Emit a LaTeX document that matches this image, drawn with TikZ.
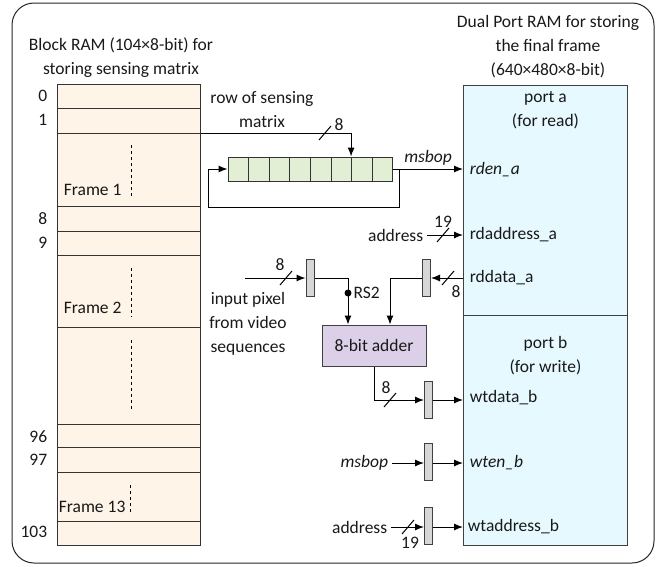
\documentclass[tikz,border=0pt]{standalone}
\usepackage{fontspec}
\setmainfont{Carlito}
\usetikzlibrary{arrows.meta,positioning}
\definecolor{ramfill}{HTML}{FEF4E8}
\definecolor{cellfill}{HTML}{E2EFD5}
\definecolor{portfill}{HTML}{E6F9FE}
\definecolor{addfill}{HTML}{DCD0E8}
\definecolor{latchfill}{HTML}{D6D6D6}
\newcommand{\busmark}[2]{\draw (#1-6,#2+7) -- (#1+6,#2-7);}
\begin{document}
\begin{tikzpicture}[x=1pt,y=-1pt,>={Latex[length=9pt,width=7pt]},line width=1pt,
  every node/.style={font=\fontsize{17.5}{24}\selectfont, text=black!90}]
  \tikzstyle{latch}=[draw=black!75, fill=latchfill, minimum width=8pt, minimum height=37pt, inner sep=0pt]
  \tikzstyle{cell}=[draw=black!80, fill=cellfill, minimum width=20.6pt, minimum height=24pt, inner sep=0pt]
  \tikzstyle{port}=[draw=black!75, fill=portfill, minimum width=164pt, minimum height=230pt, inner sep=0pt, anchor=north west]

\useasboundingbox (0,0) rectangle (665,566);
\draw[black!85, rounded corners=22pt] (12,3) rectangle (654,563);

% block RAM
\node [align=center] (bramtitle) at (121,58) {Block RAM (104×8-bit) for\\storing sensing matrix};
\node [draw=black!80, fill=ramfill, minimum width=143pt, minimum height=461pt, inner sep=0pt, anchor=north west] (bram) at (57,84) {};
\foreach \y in {108,133,206,231,255,327,424,447,472,521}
  \draw [black!80] (bram.west |- 0,\y) -- (bram.east |- 0,\y);

\node [anchor=east] (a0)   at (51,96)  {0};
\node [anchor=east] (a1)   at (51,120) {1};
\node [anchor=east] (a8)   at (51,219) {8};
\node [anchor=east] (a9)   at (51,243) {9};
\node [anchor=east] (a96)  at (51,437) {96};
\node [anchor=east] (a97)  at (51,460) {97};
\node [anchor=east] (a103) at (51,532) {103};

\node [anchor=west] (fr1)  at (60,190) {Frame 1};
\node [anchor=west] (fr2)  at (60,308) {Frame 2};
\node [anchor=west] (fr13) at (55,507) {Frame 13};
\draw [dashed, line width=0.7pt] (131,145) -- (131,198);
\draw [dashed, line width=0.7pt] (131,268) -- (131,317);
\draw [dashed, line width=0.7pt] (131,340) -- (131,411);
\draw [dashed, line width=0.7pt] (130,485) -- (130,512);

% dual port RAM
\node [align=center] (dptitle) at (548,47) {Dual Port RAM for storing\\the final frame\\(640×480×8-bit)};
\node [port] (porta) at (463,85) {};
\node [port] (portb) at (463,315) {};
\node [align=center, anchor=north] (patext) at ([yshift=-3pt]porta.north) {port a\\(for read)};
\node [align=center, anchor=north] (pbtext) at ([yshift=-18pt]portb.north) {port b\\(for write)};
\node [anchor=west] (rden)   at (466,170) {\textit{rden\_a}};
\node [anchor=west] (rdaddr) at (466,235) {rdaddress\_a};
\node [anchor=west] (rddata) at (466,278) {rddata\_a};
\node [anchor=west] (wtdata) at (466,398) {wtdata\_b};
\node [anchor=west] (wten)   at (466,463) {\textit{wten\_b}};
\node [anchor=west] (wtaddr) at (464,527) {wtaddress\_b};

% shift register
\foreach \i in {0,...,7}
  \node [cell] (c\i) at ({238.3+20.6*\i},169) {};
\node [align=center] (rowtext) at (262,110) {row of sensing\\matrix};
\draw [->] (bram.east |- 0,133) -| (c6.north west);
\busmark{325}{133}
\node (rowbus) at (339,125) {8};

\coordinate (fbtap) at (399,169);
\coordinate (fbleft) at (208,207);
\draw [->] (c7.east) -- (porta.west |- c7.east) node [midway, above] (msbopa) {\textit{msbop}};
\draw [->] (fbtap) |- (fbleft) |- (c0.west);

% read side
\node [anchor=east] (addra) at (427,235) {address};
\draw [->] (addra.east) -- (porta.west |- addra.east);
\busmark{443}{235}
\node (addrabus) at (443,222) {19};

\node [latch] (lrd) at (426.5,278) {};
\draw [->] (porta.west |- lrd) -- (lrd.east);
\busmark{448}{278}
\node (rdbus) at (456,292) {8};

\node [draw=black!75, fill=addfill, minimum width=104pt, minimum height=41pt] (add) at (374,345.5) {8-bit adder};
\draw [->] (lrd.west) -| ([xshift=16pt]add.north);

\coordinate (pixin) at (245,278);
\node [latch] (lin) at (310,278) {};
\draw [->] (pixin) -- (lin.west);
\busmark{286}{278}
\node (pixbus) at (280,265) {8};
\node [align=center] (pixtext) at (248,324) {input pixel\\from video\\sequences};
\draw [->] (lin.east) -| ([xshift=-26pt]add.north);
\node [circle, fill, inner sep=0pt, minimum size=7pt] (rs2) at (348,293) {};
\node [anchor=west, inner sep=1pt] (rs2text) at (rs2.east) {RS2};

% write side
\node [latch] (lwd) at (428.5,400) {};
\draw [->] (add.south) |- (lwd.west);
\busmark{390}{400}
\node (wdbus) at (386,388) {8};
\draw [->] (lwd.east) -- (portb.west |- lwd);

\node [latch] (lwe) at (428.5,461.5) {};
\node [anchor=east] (msbopb) at (392,463) {\textit{msbop}};
\draw [->] (msbopb.east) -- (lwe.west |- msbopb.east);
\draw [->] (lwe.east |- msbopb.east) -- (portb.west |- msbopb.east);

\node [latch] (lwa) at (428.5,526) {};
\node [anchor=east] (addrb) at (391,527) {address};
\draw [->] (addrb.east) -- (lwa.west |- addrb.east);
\busmark{408}{527}
\node (addrbbus) at (410,543) {19};
\draw [->] (lwa.east |- addrb.east) -- (portb.west |- addrb.east);

\end{tikzpicture}
\end{document}
